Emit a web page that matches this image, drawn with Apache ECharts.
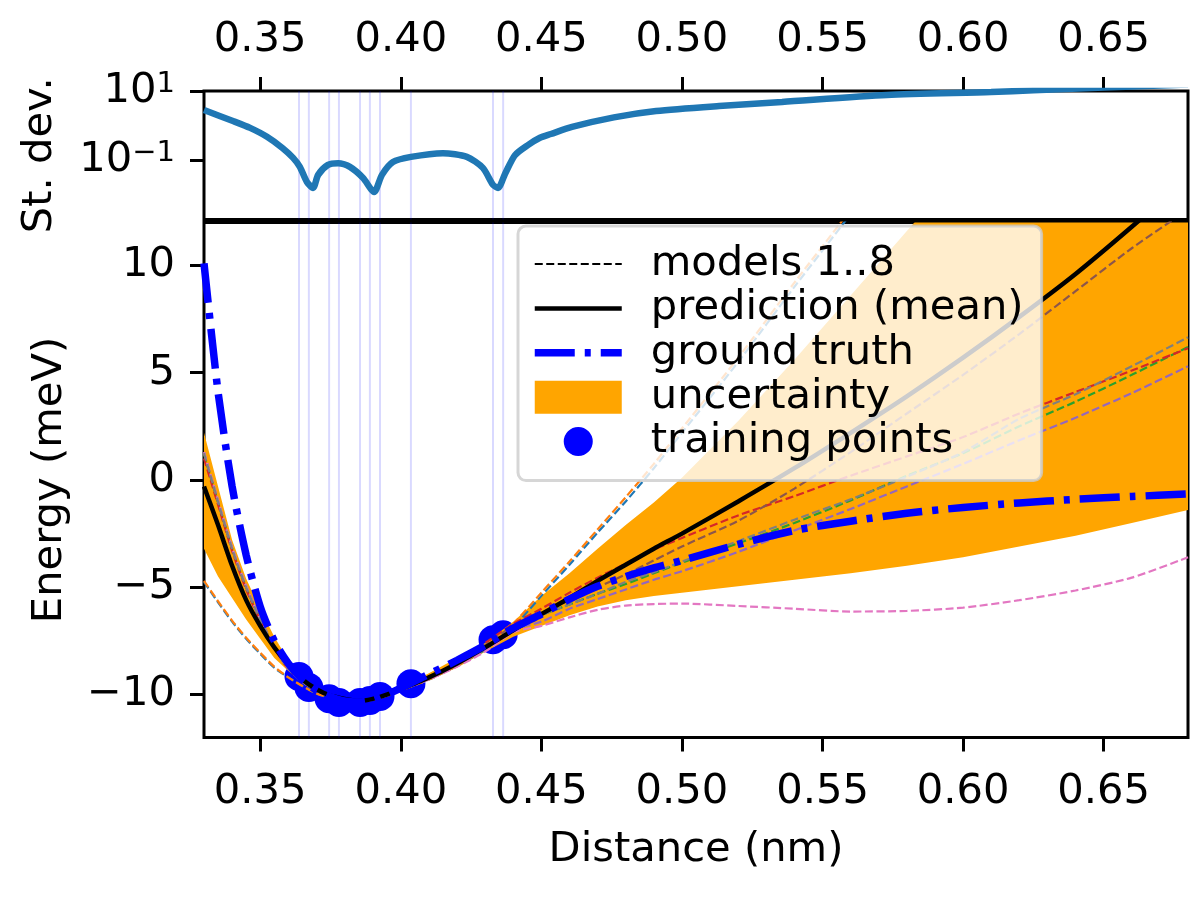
<!DOCTYPE html>
<html><head><meta charset="utf-8">
<style>html,body{margin:0;padding:0;background:#fff}#c{width:1200px;height:900px}</style>
<script src="https://cdn.jsdelivr.net/npm/echarts@6/dist/echarts.min.js"></script></head>
<body><div id="c"></div>
<script>
const xGrid=[.33,.335,.34,.345,.35,.355,.36,.365,.37,.375,.38,.385,.39,.395,.40,.41,.42,.43,.44,.45,.46,.47,.48,.49,.50,.52,.54,.56,.58,.60,.62,.64,.66,.68];
const meanE=[-0.3,-2.1,-4.0,-5.6,-6.8,-7.8,-8.6,-9.3,-9.75,-10.05,-10.2,-10.3,-10.2,-10.0,-9.75,-9.2,-8.55,-7.8,-7.0,-6.25,-5.5,-4.7,-3.95,-3.2,-2.5,-1.0,0.55,2.2,3.9,5.7,7.6,9.6,11.8,14.1];
const truthE=[10.1,4.1,-0.3,-3.5,-5.9,-7.5,-8.55,-9.3,-9.8,-10.1,-10.3,-10.35,-10.25,-10.0,-9.7,-9.05,-8.4,-7.7,-6.9,-6.25,-5.55,-4.95,-4.5,-4.1,-3.75,-3.0,-2.35,-1.92,-1.55,-1.28,-1.07,-0.9,-0.77,-0.65];
const upperE=[2.2,-0.3,-2.8,-4.6,-6.0,-7.3,-8.4,-9.2,-9.7,-10.0,-10.15,-10.25,-10.15,-9.95,-9.65,-9.0,-8.3,-7.6,-6.6,-5.4,-4.35,-3.2,-2.1,-1.05,0.1,2.75,5.6,8.6,11.6,14.6,17.6,20.8,24.2,29];
const lowerE=[-3.2,-4.5,-5.5,-6.5,-7.4,-8.3,-8.9,-9.4,-9.8,-10.1,-10.25,-10.35,-10.25,-10.05,-9.8,-9.3,-8.75,-8.0,-7.3,-6.8,-6.3,-5.9,-5.6,-5.4,-5.25,-4.95,-4.65,-4.35,-4.0,-3.6,-3.1,-2.6,-2.0,-1.4];
const model1=[-4.75,-5.7,-6.6,-7.4,-8.1,-8.75,-9.2,-9.6,-9.95,-10.15,-10.25,-10.3,-10.2,-10.05,-9.8,-9.3,-8.65,-7.9,-6.85,-5.4,-3.95,-2.45,-1.0,0.55,2.2,5.5,9.0,12.4,16,19.7,23.6,27.6,31.8,36];
const model2=[-4.7,-5.65,-6.55,-7.35,-8.05,-8.7,-9.2,-9.6,-9.95,-10.15,-10.25,-10.3,-10.2,-10.05,-9.8,-9.3,-8.65,-7.85,-6.7,-5.25,-3.8,-2.3,-0.8,0.75,2.4,5.7,9.2,12.6,16.2,20,24,28,32.2,36.4];
const model3=[1.2,-1.05,-3.2,-5.0,-6.5,-7.8,-8.8,-9.4,-9.8,-10.1,-10.25,-10.3,-10.2,-10.0,-9.75,-9.2,-8.55,-7.8,-6.9,-6.3,-5.8,-5.3,-4.85,-4.35,-3.85,-2.95,-2.0,-0.95,0.2,1.25,2.5,3.65,4.9,6.2];
const model4=[1.0,-1.15,-3.3,-5.1,-6.55,-7.85,-8.8,-9.4,-9.8,-10.1,-10.25,-10.3,-10.2,-10.0,-9.75,-9.2,-8.5,-7.6,-6.7,-6.0,-5.25,-4.55,-3.9,-3.25,-2.7,-1.65,-0.75,0.2,1.1,2.0,3.1,4.1,5.1,6.14];
const model5=[1.3,-1.0,-3.15,-4.95,-6.45,-7.75,-8.8,-9.4,-9.8,-10.1,-10.25,-10.3,-10.2,-10.0,-9.75,-9.2,-8.6,-7.9,-7.0,-6.6,-6.0,-5.55,-5.1,-4.65,-4.25,-3.35,-2.35,-1.35,-0.3,0.75,1.85,2.9,4.05,5.3];
const model6=[1.25,-1.0,-3.2,-5.0,-6.5,-7.8,-8.8,-9.4,-9.8,-10.1,-10.25,-10.3,-10.2,-10.0,-9.75,-9.2,-8.55,-7.7,-6.8,-6.2,-5.6,-5.0,-4.4,-3.75,-3.1,-1.9,-0.4,1.3,3.1,4.9,6.8,8.8,10.8,12.6];
const model7=[1.3,-0.95,-3.15,-4.95,-6.5,-7.8,-8.8,-9.4,-9.8,-10.1,-10.25,-10.3,-10.25,-10.05,-9.8,-9.3,-8.7,-8.0,-7.1,-6.8,-6.4,-6.05,-5.85,-5.78,-5.76,-5.87,-6.0,-6.13,-6.1,-5.95,-5.6,-5.15,-4.55,-3.6];
const model8=[1.25,-1.0,-3.2,-5.0,-6.5,-7.8,-8.8,-9.4,-9.8,-10.1,-10.25,-10.3,-10.2,-10.0,-9.75,-9.2,-8.55,-7.8,-6.9,-6.3,-5.8,-5.3,-4.75,-4.3,-3.8,-2.85,-1.85,-0.9,0.15,1.3,2.85,4.0,5.3,6.65];
const modelColors=['#1f77b4','#ff7f0e','#2ca02c','#d62728','#9467bd','#8c564b','#e377c2','#7f7f7f'];
const stdX=[.33,.3403,.3464,.3524,.358,.3617,.3641,.3666,.3688,.3706,.3741,.3777,.3819,.3866,.3905,.3933,.3972,.4036,.415,.4235,.4292,.4328,.4346,.4371,.4406,.4452,.4495,.4534,.4609,.4758,.4908,.5132,.5356,.5729,.61,.625,.68];
const stdY=[2.81,1.35,0.85,0.47,0.22,0.115,0.063,0.023,0.0155,0.037,0.072,0.081,0.063,0.03,0.0118,0.037,0.087,0.123,0.158,0.123,0.059,0.019,0.0155,0.04,0.138,0.27,0.44,0.567,0.91,1.72,2.63,3.67,4.8,7.6,9.3,10.5,15.4];
const trainX=[.3638,.3673,.3745,.378,.3855,.389,.3926,.4036,.4328,.4364];
const trainE=[-9.16,-9.67,-10.19,-10.37,-10.37,-10.28,-10.09,-9.49,-7.44,-7.21];
const xTicks=[.35,.40,.45,.50,.55,.60,.65];
const eTicks=[-10,-5,0,5,10];
const stdTicks=[0.1,10];

const FS=41.67, FF='"DejaVu Sans"';
const STD_MIN=0.00188, STD_MAX=10, E_MIN=-12, E_MAX=12;
const pairs=(xs,ys)=>xs.map((x,i)=>[x,ys[i]]);
const axLine={show:false,onZero:false};
const tick={show:true,length:14,lineStyle:{color:'#000',width:3}};
const mk=(extra)=>Object.assign({axisLine:axLine,splitLine:{show:false},minorTick:{show:false}},extra);
const lbl=(o)=>Object.assign({fontFamily:FF,fontSize:FS,color:'#000'},o);
const xAx=(grid,pos,margin,extra)=>mk(Object.assign({type:'value',gridIndex:grid,position:pos,min:.33,max:.68,
  axisTick:Object.assign({},tick,{customValues:xTicks}),
  axisLabel:lbl({margin,customValues:xTicks,formatter:v=>v.toFixed(2)})},extra));
const vlines=(name,xi,yi,lo,hi)=>({type:'line',name,xAxisIndex:xi,yAxisIndex:yi,z:1,silent:true,symbol:'none',showSymbol:false,clip:true,
  lineStyle:{color:'rgba(0,0,255,0.15)',width:2},
  data:trainX.flatMap(x=>[[x,lo],[x,hi],[x,null]])});

const modelArrs=[model1,model2,model3,model4,model5,model6,model7,model8];
const modelSeries=modelArrs.map((a,i)=>({type:'line',name:'model '+(i+1),xAxisIndex:1,yAxisIndex:1,data:pairs(xGrid,a),
  smooth:0.25,symbol:'none',z:4,clip:true,lineStyle:{color:modelColors[i],width:2.2,type:[8,3.5]}}));
const noMark={color:'rgba(0,0,0,0)',borderColor:'rgba(0,0,0,0)',borderWidth:0};

const chart=echarts.init(document.getElementById('c'));
chart.setOption({
  animation:false,
  backgroundColor:'#fff',
  grid:[
    {left:204,right:12,top:91,height:128.5,show:true,borderColor:'#000',borderWidth:3,backgroundColor:'transparent'},
    {left:204,right:12,top:222.5,height:515,show:true,borderColor:'#000',borderWidth:3,backgroundColor:'transparent'}
  ],
  xAxis:[
    xAx(0,'top',30,{}),
    xAx(1,'bottom',34,{name:'Distance (nm)',nameLocation:'middle',nameGap:92,nameTextStyle:{fontFamily:FF,fontSize:FS,color:'#000'}})
  ],
  yAxis:[
    mk({type:'log',logBase:10,gridIndex:0,position:'left',min:STD_MIN,max:STD_MAX,
      axisTick:Object.assign({},tick,{customValues:stdTicks}),
      axisLabel:lbl({margin:29,customValues:stdTicks,formatter:v=>v>=1?'{a|10}{b|1}':'{a|10}{b|\u22121}',
        rich:{a:{fontFamily:FF,fontSize:FS,color:'#000'},b:{fontFamily:FF,fontSize:29,color:'#000',verticalAlign:'top'}}}),
      name:'St. dev.',nameLocation:'middle',nameRotate:90,nameGap:143,nameTextStyle:{fontFamily:FF,fontSize:FS,color:'#000'}}),
    mk({type:'value',gridIndex:1,position:'left',min:E_MIN,max:E_MAX,
      axisTick:Object.assign({},tick,{customValues:eTicks}),
      axisLabel:lbl({margin:29,customValues:eTicks,formatter:v=>String(v).replace('-','\u2212')}),
      name:'Energy (meV)',nameLocation:'middle',nameRotate:90,nameGap:133,nameTextStyle:{fontFamily:FF,fontSize:FS,color:'#000'}})
  ],
  legend:{
    orient:'vertical',left:518,top:226,
    padding:[17,18,18,13],itemWidth:87,itemHeight:33,itemGap:2.4,
    backgroundColor:'rgba(255,255,255,0.8)',borderColor:'rgba(204,204,204,0.8)',borderWidth:3,borderRadius:8,
    lineStyle:{width:'inherit'},
    textStyle:{fontFamily:FF,fontSize:FS,color:'#000',padding:[3,0,0,24]},
    selectedMode:false,z:50,
    data:[{name:'models 1..8',itemStyle:noMark},{name:'prediction (mean)',itemStyle:noMark},{name:'ground truth',itemStyle:noMark},
      {name:'uncertainty',icon:'rect'},{name:'training points',icon:'path://M0 0M100 100M50 6A44 44 0 1 0 50.01 6Z'}]
  },
  series:[
    vlines('lines top',0,0,STD_MIN,STD_MAX),
    vlines('lines bottom',1,1,E_MIN,E_MAX),
    {type:'line',name:'St. dev.',xAxisIndex:0,yAxisIndex:0,data:pairs(stdX,stdY),smooth:0.25,symbol:'none',z:3,clip:true,
      lineStyle:{color:'#1f77b4',width:6.5}},
    {type:'scatter',name:'training points',xAxisIndex:1,yAxisIndex:1,data:pairs(trainX,trainE),symbol:'circle',symbolSize:29,z:2,
      itemStyle:{color:'#0000ff',opacity:1}},
    {type:'custom',name:'uncertainty',xAxisIndex:1,yAxisIndex:1,z:3,clip:true,silent:true,
      itemStyle:{color:'#ffa500'},
      encode:{x:0,y:1},
      data:xGrid.map((x,i)=>[x,lowerE[i],upperE[i]]),
      renderItem:(p,api)=>{
        if(p.dataIndex!==0) return null;
        const up=xGrid.map((x,i)=>api.coord([x,upperE[i]]));
        const lo=xGrid.map((x,i)=>api.coord([x,lowerE[i]])).reverse();
        return {type:'polygon',shape:{points:up.concat(lo),smooth:0},style:{fill:'#ffa500'}};
      }},
    ...modelSeries,
    {type:'line',name:'models 1..8',xAxisIndex:1,yAxisIndex:1,data:[],symbol:'none',z:4,
      itemStyle:{color:'#000'},lineStyle:{color:'#000',width:2,type:[8,3.5]}},
    {type:'line',name:'prediction (mean)',xAxisIndex:1,yAxisIndex:1,data:pairs(xGrid,meanE),smooth:0.25,symbol:'none',z:5,clip:true,
      itemStyle:{color:'#000'},lineStyle:{color:'#000',width:4.5}},
    {type:'line',name:'ground truth',xAxisIndex:1,yAxisIndex:1,data:pairs(xGrid,truthE),smooth:0.25,symbol:'none',z:6,clip:true,
      itemStyle:{color:'#0000ff'},lineStyle:{color:'#0000ff',width:7.5,type:[40,10,6,10],cap:'butt'}}
  ]
});
</script></body></html>
